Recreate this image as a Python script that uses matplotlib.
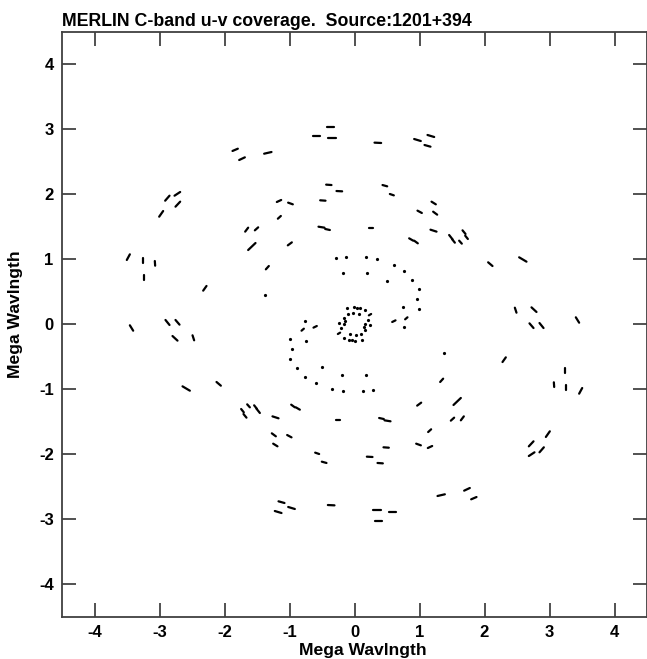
import matplotlib
matplotlib.use("Agg")
import matplotlib.pyplot as plt

plt.rcParams['font.family'] = ['Liberation Sans', 'DejaVu Sans']
plt.rcParams['font.weight'] = 'bold'

# u-v tracks for one half of the plane (the conjugate half is (-u, -v))
# each track goes from (u_start, v_start) to (u_end, v_end), in mega wavelengths
# long baselines
u_start = [-1.877, -1.774, -1.390, -0.646, -0.426, -0.410, -0.436, -0.277, -0.528,
           -1.195, -1.021, -1.179, -0.554, -0.451, -1.682, -1.533, -1.636, -1.026,
           -1.364, -1.380, -2.328, -3.503, -3.256, -3.072, -3.246, -3.005, -2.913,
           -2.769, -2.754, -2.908, -2.754,
           0.308, 0.918, 1.123, 1.077, 0.431, 0.544, 1.185, 0.969, 1.210, 1.169,
           0.220, 0.841, 0.918, 1.456, 1.503, 1.610, 1.662, 1.703, 2.056, 2.533,
           2.467, 2.723, 3.405]
v_start = [2.662, 2.523, 2.620, 2.885, 3.026, 2.862, 2.144, 2.046, 1.903,
           1.877, 1.867, 1.620, 1.497, 1.462, 1.421, 1.441, 1.138, 1.210,
           0.841, 0.441, 0.513, 0.985, 1.015, 0.969, 0.759, 1.651, 1.897,
           1.974, 1.805, 0.062, 0.062,
           2.790, 2.846, 2.908, 2.754, 2.138, 2.000, 1.882, 1.744, 1.728, 1.451,
           1.477, 1.318, 1.282, 1.369, 1.303, 1.282, 1.441, 1.359, 0.949, 1.026,
           0.251, 0.256, 0.103]
u_end = [-1.795, -1.687, -1.277, -0.533, -0.313, -0.282, -0.354, -0.190, -0.446,
         -1.128, -0.949, -1.133, -0.462, -0.379, -1.636, -1.482, -1.523, -0.964,
         -1.318, -1.380, -2.277, -3.456, -3.256, -3.067, -3.246, -2.944, -2.846,
         -2.682, -2.682, -2.846, -2.692,
         0.410, 1.020, 1.226, 1.169, 0.503, 0.605, 1.251, 1.036, 1.272, 1.262,
         0.287, 0.903, 0.974, 1.508, 1.544, 1.651, 1.708, 1.744, 2.123, 2.646,
         2.492, 2.800, 3.456]
v_end = [2.697, 2.564, 2.646, 2.885, 3.026, 2.862, 2.138, 2.041, 1.897,
         1.908, 1.841, 1.662, 1.482, 1.446, 1.482, 1.487, 1.246, 1.256,
         0.892, 0.441, 0.585, 1.072, 0.938, 0.897, 0.682, 1.738, 1.974,
         2.031, 1.882, -0.015, -0.010,
         2.785, 2.815, 2.877, 2.728, 2.118, 1.979, 1.841, 1.708, 1.682, 1.421,
         1.477, 1.282, 1.241, 1.303, 1.251, 1.236, 1.385, 1.308, 0.892, 0.959,
         0.174, 0.185, 0.020]

# short baselines: the spiral and the inner ring
short_u_start = [-0.282, -0.128, 0.179, 0.349, 0.600, 0.759, 0.882, 0.990, 0.959,
                 0.990, 0.744, 0.779, 0.580, 0.759, -0.179, 0.190, 0.503,
                 -0.113, -0.015, 0.046, 0.092, 0.169, -0.103, -0.026, 0.062,
                 0.221, 0.205, 0.154, 0.246, 0.144, 0.169]
short_v_start = [1.020, 1.031, 1.033, 0.995, 0.908, 0.815, 0.677, 0.538, 0.385,
                 0.231, 0.256, 0.072, 0.031, -0.041, 0.779, 0.779, 0.667,
                 0.241, 0.256, 0.246, 0.241, 0.210, 0.154, 0.164, 0.154,
                 0.133, 0.062, 0.005, -0.021, -0.051, -0.092]
short_u_end = [-0.282, -0.128, 0.179, 0.349, 0.600, 0.759, 0.882, 0.990, 0.959,
               0.990, 0.744, 0.815, 0.631, 0.759, -0.179, 0.190, 0.503,
               -0.113, -0.015, 0.046, 0.092, 0.169, -0.103, -0.026, 0.062,
               0.256, 0.205, 0.154, 0.246, 0.144, 0.169]
short_v_end = [1.020, 1.031, 1.033, 0.995, 0.908, 0.815, 0.677, 0.538, 0.385,
               0.231, 0.256, 0.103, 0.056, -0.041, 0.779, 0.779, 0.667,
               0.241, 0.256, 0.246, 0.241, 0.210, 0.154, 0.164, 0.154,
               0.154, 0.062, 0.005, -0.021, -0.051, -0.092]

ticks = [-4, -3, -2, -1, 0, 1, 2, 3, 4]


def draw_track(ax, u0, v0, u1, v1):
    # a track and its conjugate
    for s in (1, -1):
        if u0 == u1 and v0 == v1:
            ax.plot([s * u0], [s * v0], 'o', color='black', ms=2.3, mew=0)
        else:
            ax.plot([s * u0, s * u1], [s * v0, s * v1], '-', color='black',
                    lw=1.6, solid_capstyle='round')


fig = plt.figure(figsize=(6.47, 6.59), dpi=100)
ax = fig.add_axes([62 / 647, 42.5 / 659, 585 / 647, 585 / 659])

all_u0 = u_start + short_u_start
all_v0 = v_start + short_v_start
all_u1 = u_end + short_u_end
all_v1 = v_end + short_v_end
for i in range(len(all_u0)):
    draw_track(ax, all_u0[i], all_v0[i], all_u1[i], all_v1[i])

ax.set_xlim(-4.5, 4.5)
ax.set_ylim(-4.5, 4.5)
ax.set_xticks(ticks)
ax.set_yticks(ticks)
ax.set_xticklabels([str(t) for t in ticks])
ax.set_yticklabels([str(t) for t in ticks])
ax.tick_params(direction='in', length=10, width=1.2, color='#333333',
               top=True, right=True, labelsize=12)
ax.tick_params(axis='x', pad=6)
ax.tick_params(axis='y', pad=6)
for sp in ax.spines.values():
    sp.set_linewidth(1.3)
    sp.set_color('#404040')

ax.set_xlabel('Mega Wavlngth', fontsize=12.6, fontweight='bold', va='baseline')
ax.xaxis.set_label_coords(0.515, -0.0658)
ax.set_ylabel('Mega Wavlngth', fontsize=12.6, fontweight='bold', va='center')
ax.yaxis.set_label_coords(-0.080, 0.516)
fig.text(62 / 647, 1 - 26 / 659, 'MERLIN C-band u-v coverage.  Source:1201+394',
         fontsize=12.8, fontweight='bold', ha='left', va='baseline')

fig.savefig('out.png', dpi=100)
